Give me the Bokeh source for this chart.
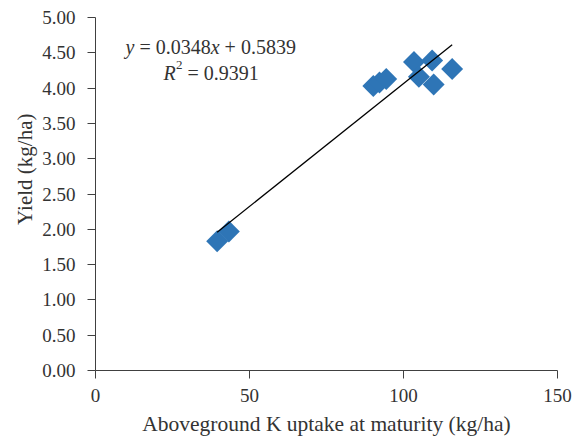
import math
from bokeh.plotting import figure
from bokeh.models import Range1d, FixedTicker, NumeralTickFormatter, Label, Title
from bokeh.embed import file_html
from bokeh.resources import INLINE

# ---- data ----
k_uptake = [39.5, 43.3, 90.2, 92.2, 94.4, 103.4, 105.0, 109.3, 109.8, 115.8]
grain_yield = [1.83, 1.97, 4.03, 4.08, 4.13, 4.37, 4.16, 4.39, 4.05, 4.27]
x_ticks = [0, 50, 100, 150]
y_ticks = [0.0, 0.5, 1.0, 1.5, 2.0, 2.5, 3.0, 3.5, 4.0, 4.5, 5.0]
slope = 0.0348
intercept = 0.5839
r_squared = 0.9391
x_title = "Aboveground K uptake at maturity (kg/ha)"
y_title = "Yield (kg/ha)"

FONT = "Liberation Serif"
TEXT = "#333333"
AXIS = "#404040"
BLUE = "#2e75b6"

p = figure(width=573, height=438,
           x_range=Range1d(0, 150), y_range=Range1d(0, 5),
           output_backend="svg", toolbar_location=None,
           min_border_left=95, min_border_right=16,
           min_border_top=17, min_border_bottom=67,
           x_axis_label=x_title)
p.grid.visible = False
p.outline_line_color = None
p.background_fill_color = "white"
p.border_fill_color = "white"

for ax in (p.xaxis[0], p.yaxis[0]):
    ax.axis_line_color = AXIS
    ax.axis_line_width = 1
    ax.major_tick_line_color = AXIS
    ax.minor_tick_line_color = None
    ax.major_tick_in = 0
    ax.major_tick_out = 8
    ax.major_label_text_font = FONT
    ax.major_label_text_font_size = "19px"
    ax.major_label_text_color = TEXT

p.xaxis.ticker = FixedTicker(ticks=x_ticks)
p.yaxis.ticker = FixedTicker(ticks=y_ticks)
p.yaxis.formatter = NumeralTickFormatter(format="0.00")
p.xaxis.formatter = NumeralTickFormatter(format="0")
p.xaxis.major_label_standoff = 10
p.yaxis.major_label_standoff = 12
p.xaxis.axis_label_text_font = FONT
p.xaxis.axis_label_text_font_size = "21.5px"
p.xaxis.axis_label_text_font_style = "normal"
p.xaxis.axis_label_text_color = TEXT
p.xaxis.axis_label_standoff = 7

# y axis title as a side title (allows off-centre placement like the reference)
p.add_layout(Title(text=y_title, align="right", offset=96,
                   text_font=FONT, text_font_size="21px", text_font_style="normal",
                   text_color=TEXT, standoff=6), "left")

# scatter (diamonds = squares rotated 45 degrees)
p.scatter(k_uptake, grain_yield, marker="square", size=15.5, angle=math.pi / 4,
          fill_color=BLUE, line_color=None)

# linear trend line over data extent
x_fit = [min(k_uptake), max(k_uptake)]
y_fit = [slope * v + intercept for v in x_fit]
p.line(x_fit, y_fit, line_color="black", line_width=1.3)

# equation text
eq_size = "20px"
def piece(txt, dx, dy, italic=False, size=eq_size):
    p.add_layout(Label(x=0, y=5, x_offset=dx, y_offset=dy, text=txt,
                       text_align="left", text_baseline="alphabetic",
                       text_font=FONT, text_font_size=size,
                       text_font_style="italic" if italic else "normal",
                       text_color=TEXT))

piece("y", 30, -29, italic=True)
piece("= %.4f" % slope, 43.9, -29)
piece("x", 115.2, -29, italic=True)
piece("+ %.4f" % intercept, 129.1, -29)

piece("R", 68, -55, italic=True)
piece("2", 80.5, -47, size="13px")
piece("= %.4f" % r_squared, 92, -55)

open("out.html", "w").write(file_html(p, INLINE))
